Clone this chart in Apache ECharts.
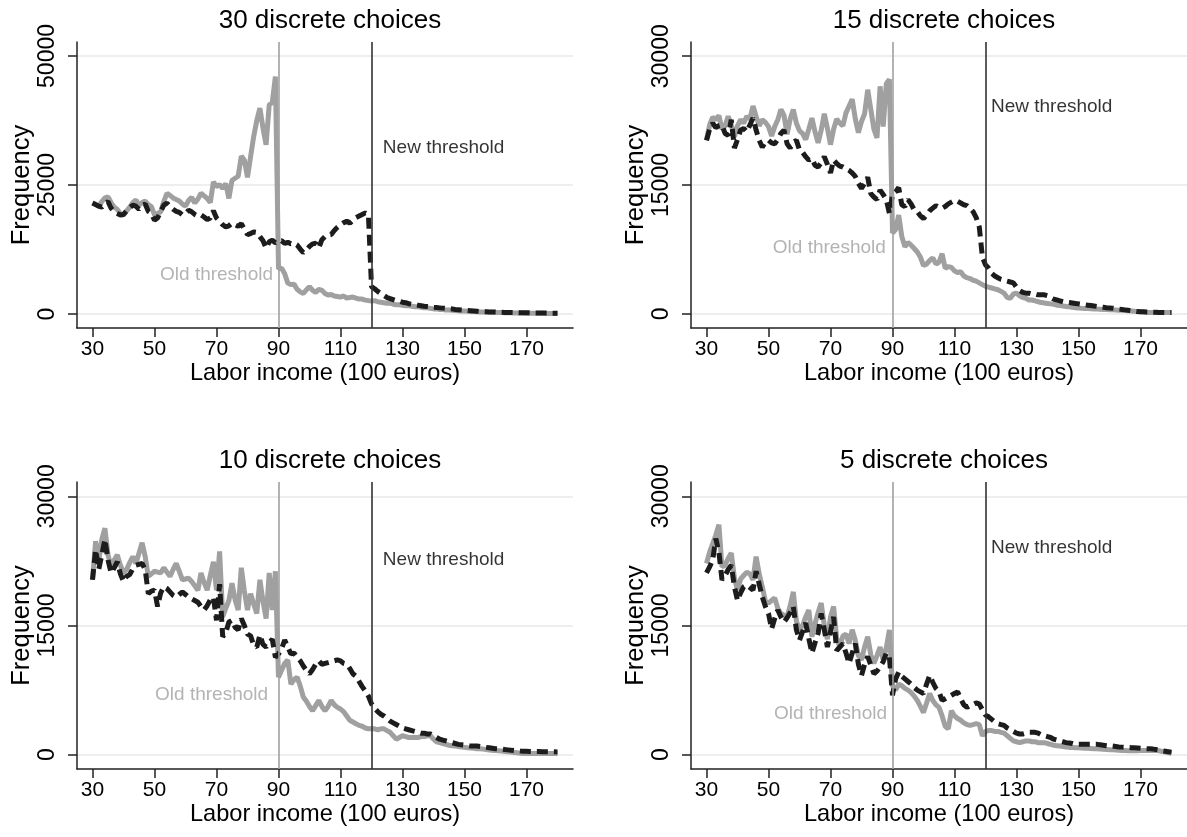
<!DOCTYPE html>
<html><head><meta charset="utf-8">
<script src="https://cdn.jsdelivr.net/npm/echarts@6/dist/echarts.min.js"></script>
<style>html,body{margin:0;padding:0;background:#fff}#chart{width:1187px;height:837px}</style>
</head><body><div id="chart"></div>
<script>
// x values run from 30 to 180 in steps of 1 (100 euros)
const xFirst = 30;
const xTicks = [30, 50, 70, 90, 110, 130, 150, 170];
const titles = ['30 discrete choices', '15 discrete choices', '10 discrete choices', '5 discrete choices'];
const yTicksTop = [0, 25000, 50000];
const yTicksOther = [0, 15000, 30000];
const oldThreshold = 90;
const newThreshold = 120;
const newLabelText = 'New threshold';
const oldLabelText = 'Old threshold';

const c30_old = [21500,21300,20900,21800,22500,22700,21600,20700,20300,19400,
19200,20000,20700,21600,22100,21100,21600,21900,21200,20800,
19200,19500,19800,21800,23400,23000,22500,22200,21900,21300,
20900,22000,22600,21500,22300,23400,22900,22400,21600,25600,
24700,25100,24300,25300,22400,25900,26300,26700,30600,29800,
26500,30500,34400,37500,39900,36000,32800,40500,41000,46000,
8800,8900,7800,6000,5700,5800,4800,4300,4000,4700,
5300,4600,4200,4800,4600,4000,3700,3800,3500,3400,
3300,3500,3100,3200,3300,3100,2900,2900,2700,2600,
2500,2600,2400,2300,2200,2100,2100,1900,1800,1800,
1700,1600,1600,1500,1400,1400,1300,1200,1200,1100,
1000,1000,900,900,800,800,750,700,650,600,
600,550,500,500,450,400,400,380,350,330,
300,300,280,260,250,240,220,200,200,190,
180,170,160,150,150,140,130,120,120,110,100];
const c30_new = [21500,21200,20900,20700,21300,21800,20500,19800,19500,19200,
19300,20000,20600,21100,20900,20300,21000,21300,19900,19500,
18200,18600,19900,21100,21500,20800,20300,19900,19700,19200,
19500,20100,19800,19300,19000,19200,18800,18300,18600,20000,
18600,18000,17300,16900,17100,17600,17300,17000,17500,16400,
15400,15600,15900,15800,15000,14200,12800,14000,14300,13800,
14100,14200,13700,13900,13600,13700,13400,12600,11900,12400,
13100,13600,13700,12800,14400,15000,15300,15400,16200,16800,
17300,17700,18000,17600,18200,18700,19000,19300,19600,19300,
5300,4900,4400,4000,3600,3200,3000,2800,2600,2500,
2300,2200,2000,1900,1800,1700,1600,1500,1450,1400,
1300,1250,1200,1150,1100,1050,1000,900,850,800,
750,700,650,600,550,500,480,450,420,400,
380,350,330,310,300,290,280,270,260,250,
240,230,220,210,200,200,190,180,180,170,160];
const c15_old = [20200,22000,22900,22600,23100,21500,21900,23000,22000,20600,
21900,22600,22200,23000,22700,24200,23000,21900,22600,22300,
21800,20700,21800,22600,23800,23100,20900,22700,23800,22200,
21300,21000,20300,21500,22800,21200,19900,21400,23300,21600,
19700,21500,22700,22200,21900,23400,24200,25000,22700,21100,
22400,23300,26100,23800,21500,20500,26500,21800,26800,27300,
9400,9800,11500,9000,7800,8300,8000,7600,7200,6600,
5600,5800,6200,6500,5800,6000,7000,5300,5500,5400,
5000,4800,4900,4400,4200,4100,3900,3800,3600,3400,
3200,3100,3000,2900,2800,2600,2400,1900,1800,2300,
2400,2100,1900,1800,1600,1600,1500,1400,1300,1250,
1200,1150,1100,1000,950,900,850,800,750,700,
660,640,620,600,580,560,540,520,500,490,
480,460,440,420,400,370,340,310,280,250,
220,190,160,150,150,150,150,150,150,150,150];
const c15_new = [20200,21500,22200,21700,21900,22000,21000,20800,22600,19300,
20300,21400,21600,21200,22000,22800,21400,20200,19400,20000,
20200,19900,19800,20300,21000,21400,19800,19300,20000,20200,
19100,18800,18300,17900,18100,17300,17100,17600,18300,17400,
16400,17900,17500,17200,17100,16900,16700,16400,16000,15200,
14600,15200,15900,14000,13600,13300,14400,13900,13300,11700,
13900,14200,14700,12700,12500,13300,12800,12100,11900,11400,
11100,11500,12000,12300,12600,12400,12300,12500,12800,13000,
13200,13100,12900,12700,12600,12300,11900,11200,10100,6600,
5700,5300,4700,4400,4200,4000,3900,3800,3700,3600,
3100,2700,2500,2400,2400,2300,2300,2200,2200,2200,
2100,1900,1700,1600,1500,1400,1350,1300,1250,1200,
1150,1100,1050,1000,950,900,850,800,750,700,
680,650,600,550,500,450,400,350,300,250,
230,220,200,190,180,170,160,150,150,150,150];
const c10_old = [20300,24800,22400,25000,26300,23200,21800,22600,23200,22000,
21100,21500,22300,23000,22200,23400,24600,23000,20700,21000,
21300,21200,21100,21700,21200,20700,21500,22200,21300,20300,
20400,20500,20100,19600,19100,21100,20000,19100,20800,22400,
19100,23600,16000,17000,17900,19900,18000,16800,21700,19000,
16800,18700,17500,16400,20300,17800,15800,21100,16800,21300,
9000,9800,10600,11000,8200,8700,9000,8000,6700,6200,
5600,5100,5700,6300,5600,5100,5600,6300,5800,5500,
5300,5000,4500,4000,3800,3600,3400,3300,3100,3000,
3000,3000,2900,3000,3000,2800,2600,2200,1800,2000,
2200,2100,2000,2000,2000,2000,2100,2100,2200,2200,
1800,1500,1400,1300,1200,1100,1050,1000,950,900,
850,800,780,750,700,680,650,600,550,500,
480,450,420,380,350,300,260,220,180,150,
150,150,150,150,150,150,150,150,150,150,150];
const c10_new = [20300,23800,21500,23200,25000,22600,21100,21700,22400,21000,
20100,20700,20900,21600,22000,22100,22200,21500,18700,19000,
19100,17200,18800,19500,19300,18900,18500,18300,18600,18900,
18600,18300,18100,17900,17700,17200,16800,17300,18000,18300,
15600,19800,13700,14200,15400,15600,14800,14500,15800,15000,
14000,13800,12700,12500,13900,12800,12500,13000,13400,11300,
11700,12300,13300,12500,11700,11800,11300,10900,10300,9800,
9400,9900,10500,10900,10500,10600,10700,10800,10900,11000,
10900,10600,10500,10000,9400,9100,8500,7900,7400,6800,
5900,5400,5000,4700,4500,4200,3900,3700,3500,3300,
3100,3000,2900,2800,2700,2600,2500,2500,2400,2400,
2200,2000,1800,1700,1600,1500,1400,1300,1200,1150,
1100,1050,1000,1000,1000,950,900,850,800,750,
700,680,650,600,560,520,480,450,420,400,
400,380,370,360,360,350,350,350,340,330,320];
const c5_old = [22200,23500,24500,25500,26700,21800,22000,22800,23400,20500,
19100,20400,20800,21200,21000,20300,23000,21000,19500,17800,
17600,17900,18200,17000,16400,16200,16000,17300,18900,15500,
14500,15000,16000,16800,13700,15200,16500,17600,15000,13400,
16000,17200,13500,12500,13800,14000,12900,14500,13300,11500,
11000,12500,13700,11600,10600,11500,12500,11000,12400,14500,
8000,7500,8200,8000,7700,7500,7200,6800,6300,5600,
4900,6000,7100,6300,5800,5500,4500,3300,3000,5100,
4500,4200,4000,3700,3500,3400,3500,3600,3500,2200,
2700,2800,2800,2700,2700,2600,2500,2200,1900,1600,
1500,1400,1500,1600,1600,1500,1500,1400,1400,1400,
1300,1200,1100,1050,1000,950,900,850,850,800,
800,780,760,740,720,700,680,650,620,600,
580,560,540,520,500,480,460,450,450,460,
480,500,500,500,500,500,450,380,300,220,150];
const c5_new = [21100,21800,22600,25100,23500,20300,20800,21500,22000,19500,
17900,18800,19500,19700,19400,19100,21300,19800,18300,17200,
16400,14600,15800,16800,16000,15400,15900,16500,17200,14500,
13300,14300,15300,13500,11800,13000,14100,16400,14500,12500,
14300,16000,12100,12500,12900,11800,10600,11800,12900,10500,
9200,10500,11400,10400,9400,9700,10200,10800,11800,11300,
6900,8800,9600,9100,8800,8500,8200,7800,7500,7300,
7100,8200,9200,8400,7700,7300,6300,6500,6700,6900,
7100,7300,6500,5800,5500,5700,5800,6000,5900,5200,
4600,4400,4100,3800,3600,3500,3400,3100,2900,2700,
2500,2400,2400,2500,2600,2600,2600,2500,2300,2200,
2100,2000,1800,1700,1600,1500,1400,1350,1300,1200,
1200,1200,1200,1200,1200,1200,1200,1150,1100,1050,
1000,1000,950,900,880,860,840,820,800,780,
750,720,700,680,650,600,550,450,400,350,300];

// annotation anchor points (data coordinates) for each panel
const newLabelAt = [[123.5, 32200], [121.6, 24100], [123.5, 22600], [121.6, 24000]];
const oldLabelAt = [[88.4, 7560], [88.0, 7640], [86.8, 7000], [88.4, 4800]];

const FONT = "'Liberation Sans', Arial, Helvetica, sans-serif";
const GRAY = '#a0a0a0';
const DARK = '#1c1c1c';

const panels = [
  {old: c30_old, neu: c30_new, yTicks: yTicksTop, yMin: -2700, yMax: 52700, grid: {left: 77, top: 42, width: 496, height: 286}},
  {old: c15_old, neu: c15_new, yTicks: yTicksOther, yMin: -1660, yMax: 31660, grid: {left: 691, top: 42, width: 496, height: 286}},
  {old: c10_old, neu: c10_new, yTicks: yTicksOther, yMin: -1660, yMax: 31660, grid: {left: 77, top: 482, width: 496, height: 287}},
  {old: c5_old, neu: c5_new, yTicks: yTicksOther, yMin: -1660, yMax: 31660, grid: {left: 691, top: 482, width: 496, height: 287}}
];

function pairs(arr) { return arr.map((v, i) => [xFirst + i, v]); }

const option = {
  animation: false,
  backgroundColor: '#fff',
  title: [], grid: [], xAxis: [], yAxis: [], series: []
};

panels.forEach((p, i) => {
  option.grid.push(Object.assign({containLabel: false}, p.grid));
  option.title.push({
    text: titles[i],
    left: p.grid.left + p.grid.width / 2,
    top: p.grid.top - 39,
    textAlign: 'center',
    textStyle: {fontFamily: FONT, fontSize: 26, fontWeight: 'normal', color: '#000'}
  });
  option.xAxis.push({
    type: 'value', gridIndex: i, min: 25, max: 185,
    name: 'Labor income (100 euros)', nameLocation: 'middle', nameGap: 33,
    nameTextStyle: {fontFamily: FONT, fontSize: 23.6, color: '#000'},
    axisLine: {show: true, onZero: false, lineStyle: {color: '#222', width: 1.5}},
    axisTick: {show: true, customValues: xTicks, length: 9, lineStyle: {color: '#222', width: 1.5}},
    axisLabel: {customValues: xTicks, fontFamily: FONT, fontSize: 21, color: '#000', margin: 11},
    splitLine: {show: false}
  });
  option.yAxis.push({
    type: 'value', gridIndex: i, min: p.yMin, max: p.yMax,
    name: 'Frequency', nameLocation: 'middle', nameGap: 42,
    nameTextStyle: {fontFamily: FONT, fontSize: 25.5, color: '#000'},
    axisLine: {show: true, onZero: false, lineStyle: {color: '#222', width: 1.5}},
    axisTick: {show: true, customValues: p.yTicks, length: 9, lineStyle: {color: '#222', width: 1.5}},
    axisLabel: {customValues: p.yTicks, rotate: 90, fontFamily: FONT, fontSize: 23, color: '#000', margin: 18,
      formatter: v => String(v)},
    splitLine: {show: true, lineStyle: {color: '#e8e8e8', width: 1.5}}
  });
  option.series.push({
    type: 'line', xAxisIndex: i, yAxisIndex: i, data: pairs(p.old),
    showSymbol: false, symbol: 'none', z: 2,
    lineStyle: {color: GRAY, width: 5},
    markLine: {
      silent: true, symbol: 'none', label: {show: false},
      data: [
        {xAxis: oldThreshold, lineStyle: {color: GRAY, width: 1.6, type: 'solid'}},
        {xAxis: newThreshold, lineStyle: {color: '#333', width: 1.6, type: 'solid'}}
      ]
    }
  });
  option.series.push({
    type: 'line', xAxisIndex: i, yAxisIndex: i, data: pairs(p.neu),
    showSymbol: false, symbol: 'none', z: 3,
    lineStyle: {color: DARK, width: 5, type: [11, 6]}
  });
  option.series.push({
    type: 'scatter', xAxisIndex: i, yAxisIndex: i, silent: true, z: 4,
    symbolSize: 1, itemStyle: {color: 'rgba(0,0,0,0)'},
    data: [
      {value: newLabelAt[i], label: {show: true, position: 'right', distance: 0, formatter: newLabelText, color: '#000', fontFamily: FONT, fontSize: 19}},
      {value: oldLabelAt[i], label: {show: true, position: 'left', distance: 0, formatter: oldLabelText, color: GRAY, fontFamily: FONT, fontSize: 19}}
    ]
  });
});

const chart = echarts.init(document.getElementById('chart'), null, {renderer: 'canvas'});
chart.setOption(option);
</script>
</body></html>
